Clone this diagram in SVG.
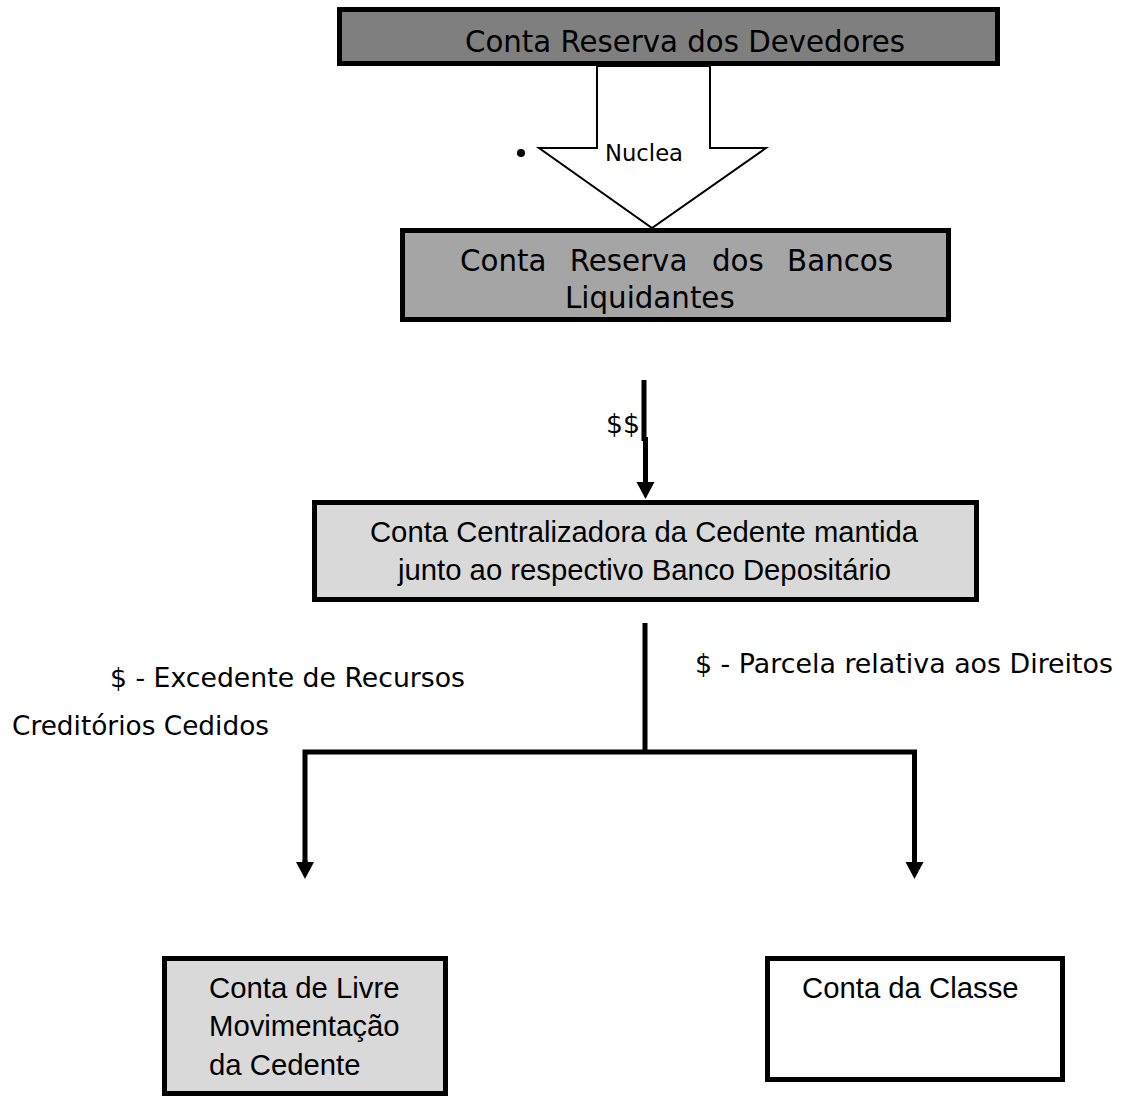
<svg xmlns="http://www.w3.org/2000/svg" width="1122" height="1098" viewBox="0 0 1122 1098">
<style>
.box{stroke:#000;stroke-width:5}
.dv{font-family:"DejaVu Sans","Verdana",sans-serif;fill:#000}
.ar{font-family:"Liberation Sans",Arial,sans-serif;fill:#000}
.wire{fill:none;stroke:#000;stroke-width:5}
</style>
<defs>
<marker id="head" markerUnits="userSpaceOnUse" markerWidth="18" markerHeight="18" viewBox="0 0 17 18" refX="0" refY="9" orient="auto" overflow="visible">
<path d="M0,0 L17,9 L0,18 Z" fill="#000"/>
</marker>
</defs>
<rect width="1122" height="1098" fill="#fff"/>
<g id="connectors">
<polygon id="nuclea-arrow" points="597,66 597,148 539,148 652,228 766,148 710,148 710,66" fill="#fff" stroke="#000" stroke-width="2"/>
<circle cx="521" cy="153" r="4" fill="#000"/>
<text class="dv" x="605" y="161" font-size="23" textLength="78" lengthAdjust="spacingAndGlyphs">Nuclea</text>
<line x1="644" y1="380" x2="644" y2="441" stroke="#000" stroke-width="5"/>
<line x1="645.5" y1="437" x2="645.5" y2="482" stroke="#000" stroke-width="5" marker-end="url(#head)"/>
<text class="dv" x="606" y="433" font-size="26.7">$$</text>
<line x1="645" y1="623" x2="645" y2="752" class="wire"/>
<path d="M305,862 V752 H914.5 V862" class="wire" stroke-linejoin="miter"/>
<line x1="305" y1="860" x2="305" y2="862" stroke="#000" stroke-width="5" marker-end="url(#head)"/>
<line x1="914.5" y1="860" x2="914.5" y2="862" stroke="#000" stroke-width="5" marker-end="url(#head)"/>
<text class="dv" x="110" y="687" font-size="26.7" textLength="355" lengthAdjust="spacingAndGlyphs">$ - Excedente de Recursos</text>
<text class="dv" x="12" y="735" font-size="26.7" textLength="257" lengthAdjust="spacingAndGlyphs">Creditórios Cedidos</text>
<text class="dv" x="695" y="673" font-size="26.7" textLength="418" lengthAdjust="spacingAndGlyphs">$ - Parcela relativa aos Direitos</text>
</g>
<g id="node-devedores">
<rect class="box" x="339.5" y="9.5" width="658" height="54" fill="#7f7f7f"/>
<text class="dv" x="465" y="52" font-size="29.3" textLength="440" lengthAdjust="spacingAndGlyphs">Conta Reserva dos Devedores</text>
</g>
<g id="node-bancos">
<rect class="box" x="402.5" y="230.5" width="546" height="89" fill="#a5a5a5"/>
<text class="dv" font-size="29.3" y="271"><tspan x="460">Conta</tspan><tspan x="569.7">Reserva</tspan><tspan x="712">dos</tspan><tspan x="787.1">Bancos</tspan></text>
<text class="dv" x="565" y="308" font-size="29.3">Liquidantes</text>
</g>
<g id="node-centralizadora">
<rect class="box" x="314.5" y="502.5" width="662" height="97" fill="#d9d9d9"/>
<text class="ar" x="370" y="542" font-size="29.3" textLength="548" lengthAdjust="spacingAndGlyphs">Conta Centralizadora da Cedente mantida</text>
<text class="ar" x="398" y="580" font-size="29.3" textLength="493" lengthAdjust="spacingAndGlyphs">junto ao respectivo Banco Depositário</text>
</g>
<g id="node-livre">
<rect class="box" x="164.5" y="958.5" width="281" height="135" fill="#d9d9d9"/>
<text class="ar" x="209" y="998" font-size="29.3">Conta de Livre</text>
<text class="ar" x="209" y="1036" font-size="29.3">Movimentação</text>
<text class="ar" x="209" y="1075" font-size="29.3">da Cedente</text>
</g>
<g id="node-classe">
<rect class="box" x="767.5" y="958.5" width="295" height="121" fill="#fff"/>
<text class="ar" x="802" y="998" font-size="29.3">Conta da Classe</text>
</g>
</svg>
